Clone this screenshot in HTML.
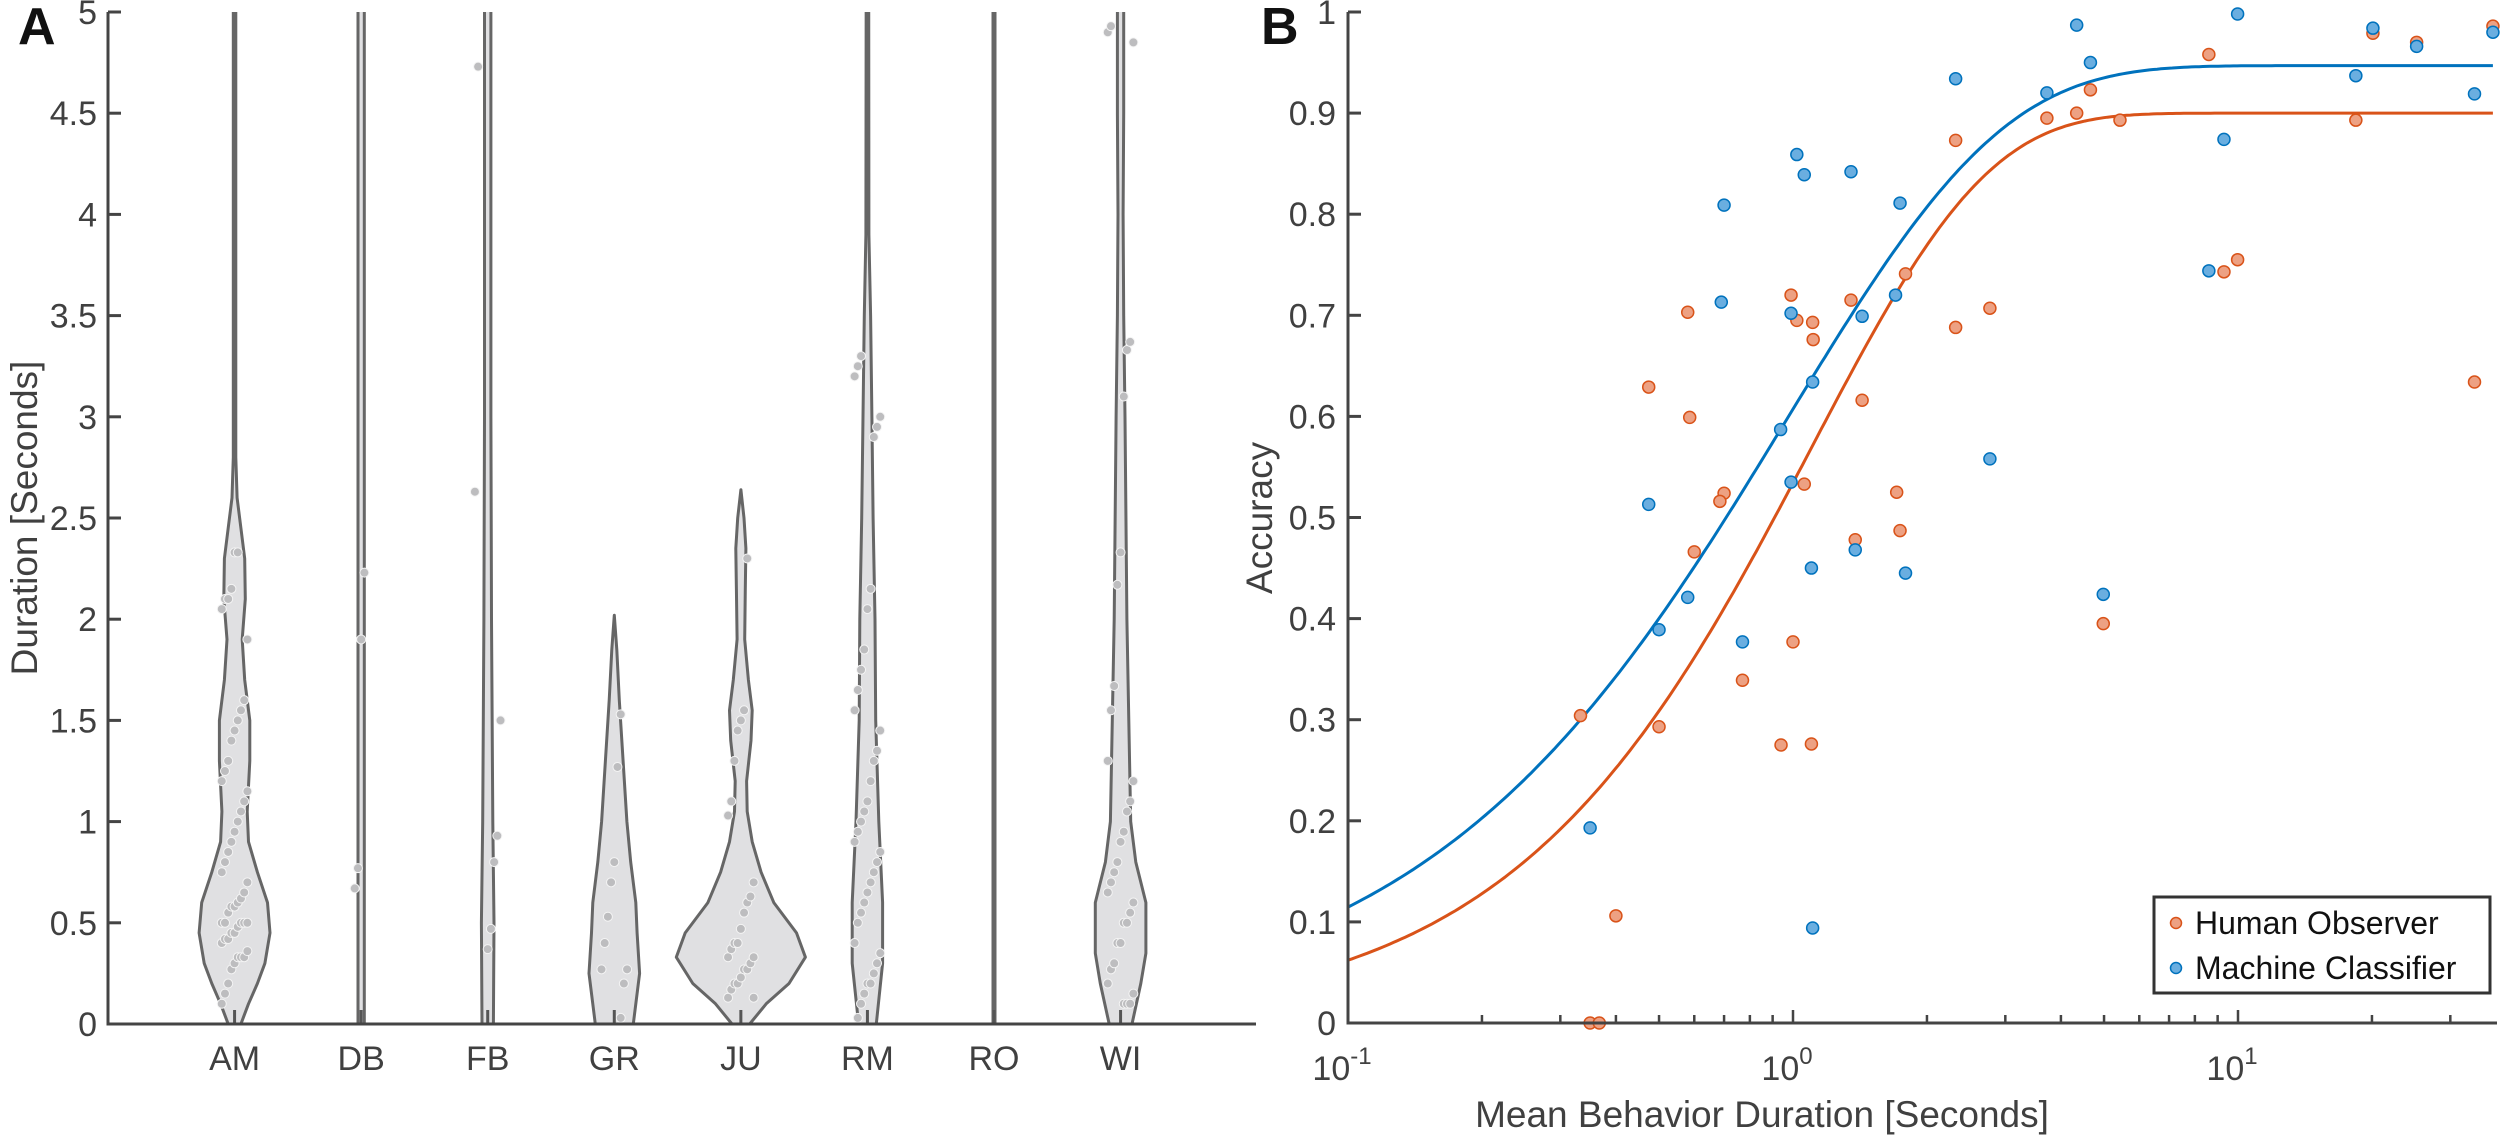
<!DOCTYPE html>
<html><head><meta charset="utf-8"><style>
html,body{margin:0;padding:0;background:#fff}
svg{display:block;font-family:"Liberation Sans",Arial,sans-serif}
</style></head><body>
<svg id="fig" width="2500" height="1136" viewBox="0 0 2500 1136" xmlns="http://www.w3.org/2000/svg">
<g id="panelA"></g>
<g id="panelB"></g>
</svg>
<script>
// ---------- Panel A data ----------
const catsA = ["AM","DB","FB","GR","JU","RM","RO","WI"];
const yTicksA = [0,0.5,1,1.5,2,2.5,3,3.5,4,4.5,5];
const yTickLabelsA = ["0","0.5","1","1.5","2","2.5","3","3.5","4","4.5","5"];
// violin outlines: [duration, half-width in category units]
const violinAM = [[0,0.05],[0.1,0.11],[0.2,0.18],[0.3,0.24],[0.45,0.28],[0.6,0.26],[0.75,0.18],[0.9,0.11],[1.05,0.1],[1.3,0.12],[1.5,0.12],[1.7,0.08],[1.9,0.06],[2.1,0.085],[2.3,0.08],[2.45,0.05],[2.6,0.02],[2.8,0.01],[5.2,0.01]];
const violinDB = [[0,0.025],[5.2,0.025]];
const violinFB = [[0,0.045],[0.5,0.05],[1,0.04],[2,0.03],[3,0.025],[4,0.025],[5.2,0.025]];
const violinGR = [[0,0.15],[0.25,0.2],[0.45,0.18],[0.6,0.17],[0.8,0.13],[1.0,0.1],[1.3,0.07],[1.6,0.04],[1.85,0.02],[2.02,0.0]];
const violinJU = [[0,0.07],[0.1,0.2],[0.2,0.38],[0.33,0.51],[0.45,0.44],[0.6,0.26],[0.75,0.16],[0.9,0.09],[1.05,0.05],[1.2,0.045],[1.4,0.08],[1.55,0.09],[1.7,0.06],[1.9,0.03],[2.15,0.035],[2.35,0.04],[2.5,0.025],[2.64,0.0]];
const violinRM = [[0,0.07],[0.3,0.12],[0.6,0.12],[1.0,0.09],[1.5,0.065],[2.0,0.06],[2.5,0.045],[3.0,0.035],[3.5,0.025],[3.9,0.012],[5.2,0.01]];
const violinRO = [[0,0.008],[5.2,0.008]];
const violinWI = [[0,0.09],[0.2,0.16],[0.35,0.2],[0.6,0.2],[0.8,0.12],[1.0,0.08],[1.5,0.065],[2.0,0.05],[3.0,0.035],[3.5,0.025],[4.0,0.02],[4.5,0.025],[5.2,0.025]];
const violinsA = [violinAM,violinDB,violinFB,violinGR,violinJU,violinRM,violinRO,violinWI];
const dotsAM = [0.1,0.15,0.2,0.27,0.3,0.33,0.33,0.33,0.36,0.4,0.42,0.42,0.45,0.45,0.48,0.5,0.5,0.5,0.5,0.5,0.55,0.58,0.58,0.6,0.62,0.65,0.7,0.75,0.8,0.85,0.9,0.95,1.0,1.05,1.1,1.15,1.2,1.25,1.3,1.4,1.45,1.5,1.55,1.6,1.9,2.05,2.1,2.1,2.15,2.33,2.33];
const dotsDB = [0.67,0.77,1.9,2.23];
const dotsFB = [0.37,0.47,0.8,0.93,1.5,2.63,4.73];
const dotsGR = [0.03,0.2,0.27,0.27,0.4,0.53,0.7,0.8,1.27,1.53];
const dotsJU = [0.13,0.13,0.17,0.2,0.2,0.23,0.27,0.27,0.3,0.33,0.33,0.37,0.4,0.4,0.47,0.55,0.6,0.63,0.7,1.03,1.1,1.3,1.45,1.5,1.55,2.3];
const dotsRM = [0.03,0.1,0.15,0.2,0.2,0.25,0.3,0.35,0.4,0.5,0.55,0.6,0.65,0.7,0.75,0.8,0.85,0.9,0.95,1.0,1.05,1.1,1.2,1.3,1.35,1.45,1.55,1.65,1.75,1.85,2.05,2.15,2.9,2.95,3.0,3.2,3.25,3.3];
const dotsRO = [];
const dotsWI = [0.1,0.1,0.1,0.15,0.2,0.27,0.3,0.4,0.4,0.5,0.5,0.55,0.6,0.65,0.7,0.75,0.8,0.9,0.95,1.05,1.1,1.2,1.3,1.55,1.67,2.17,2.33,3.1,3.33,3.37,4.85,4.9,4.93];
const dotsA = [dotsAM,dotsDB,dotsFB,dotsGR,dotsJU,dotsRM,dotsRO,dotsWI];

// ---------- Panel B data ----------
const humanX = [37.4,20.1,25.2,8.6,4.66,3.72,4.34,5.43,18.4,2.32,9.98,9.3,1.79,0.99,0.58,1.35,1.02,1.107,1.11,2.32,2.77,34,0.474,1.43,0.586,1.06,0.70,0.685,1.71,1.38,1.74,0.60,1.0,0.77,4.98,0.333,0.50,0.94,1.10,0.40,0.35,0.367];
const humanY = [0.986,0.979,0.970,0.958,0.923,0.895,0.900,0.893,0.893,0.873,0.755,0.743,0.741,0.720,0.703,0.715,0.695,0.693,0.676,0.688,0.707,0.634,0.629,0.616,0.599,0.533,0.524,0.516,0.525,0.478,0.487,0.466,0.377,0.339,0.395,0.304,0.293,0.275,0.276,0.106,0,0];
const machineX = [4.34,9.98,20.1,37.4,25.2,4.66,2.32,3.72,18.4,34,9.3,1.02,1.06,1.35,0.70,1.74,8.6,0.69,0.99,1.70,1.43,1.107,0.938,2.77,0.474,0.99,1.38,1.10,1.79,0.58,0.50,0.77,4.98,0.35,1.107];
const machineY = [0.987,0.998,0.984,0.980,0.966,0.950,0.934,0.920,0.937,0.919,0.874,0.859,0.839,0.842,0.809,0.811,0.744,0.713,0.702,0.720,0.699,0.634,0.587,0.558,0.513,0.535,0.468,0.450,0.445,0.421,0.389,0.377,0.424,0.193,0.094];
const yTicksB = [0,0.1,0.2,0.3,0.4,0.5,0.6,0.7,0.8,0.9,1];
const yTickLabelsB = ["0","0.1","0.2","0.3","0.4","0.5","0.6","0.7","0.8","0.9","1"];
const xDecadesB = [-1,0,1];
// fitted curve parameters [asymptote, tau, shape]
const fitHuman = [0.9,1.1,1.1];
const fitMachine = [0.947,0.973,0.9];

const NS="http://www.w3.org/2000/svg";
function mk(parent,tag,attrs,text){const e=document.createElementNS(NS,tag);for(const k in attrs)e.setAttribute(k,attrs[k]);if(text!==undefined)e.textContent=text;parent.appendChild(e);return e;}
const AX="#444";

// ---------- Panel A ----------
const gA=document.getElementById('panelA');
const aL=108,aR=1256,aT=12,aB=1024,aXmin=0,aXmax=9.07;
const xA=c=>aL+(c-aXmin)/(aXmax-aXmin)*(aR-aL);
const yA=v=>aB-(v/5)*(aB-aT);
const clipA=mk(gA,'clipPath',{id:'clipA'});
mk(clipA,'rect',{x:aL,y:aT,width:aR-aL,height:aB-aT});
const plotA=mk(gA,'g',{'clip-path':'url(#clipA)'});
violinsA.forEach((v,i)=>{
  const cx=xA(i+1);
  let d='';
  v.forEach((p,j)=>{d+=(j?'L':'M')+(cx+p[1]*(xA(1)-xA(0))).toFixed(1)+','+yA(p[0]).toFixed(1);});
  for(let j=v.length-1;j>=0;j--){const p=v[j];d+='L'+(cx-p[1]*(xA(1)-xA(0))).toFixed(1)+','+yA(p[0]).toFixed(1);}
  d+='Z';
  const path=mk(plotA,'path',{d:d,fill:'#e0e0e2',stroke:'#666','stroke-width':3,'stroke-linejoin':'round'});
  
  
  const dots=dotsA[i];
  dots.forEach((val,k)=>{
    const jit=((k*37+i*11)%9-4)*3.2;
    const c=mk(plotA,'circle',{cx:cx+jit,cy:yA(val),r:4.5,fill:'#bdbdbf',stroke:'#f4f4f4','stroke-width':1});
    
    
  });
  const w=mk(plotA,'line',{x1:cx,y1:aB,x2:cx,y2:aB-14,stroke:'#555','stroke-width':3});
  
  
});
const axA=mk(gA,'path',{d:`M${aL},${aT}V${aB}H${aR}`,fill:'none',stroke:AX,'stroke-width':3});


yTicksA.forEach((t,i)=>{
  mk(gA,'line',{x1:aL,y1:yA(t),x2:aL+13,y2:yA(t),stroke:AX,'stroke-width':3});
  const tx=mk(gA,'text',{x:aL-11,y:yA(t)+12,'font-size':34,fill:'#404040','text-anchor':'end'},yTickLabelsA[i]);
  
  
});
catsA.forEach((c,i)=>{
  const tx=mk(gA,'text',{x:xA(i+1),y:1070,'font-size':34,fill:'#404040','text-anchor':'middle'},c);
  
  
});
const ytA=mk(gA,'text',{x:0,y:0,'font-size':37,fill:'#404040','text-anchor':'middle',transform:'translate(37,518) rotate(-90)'},'Duration [Seconds]');


const lA=mk(gA,'text',{x:18,y:44,'font-size':52,'font-weight':'bold',fill:'#111'},'A');



// ---------- Panel B ----------
const gB=document.getElementById('panelB');
const bL=1348,bR=2497,bT=12,bB=1023,dec=445;
const xB=v=>bL+(Math.log10(v)+1)*dec;
const yB=v=>bB-v*(bB-bT);
const clipB=mk(gB,'clipPath',{id:'clipB'});
mk(clipB,'rect',{x:bL,y:bT-10,width:bR-bL+10,height:bB-bT+20});
const plotB=mk(gB,'g',{'clip-path':'url(#clipB)'});
function curve(p,color,name){
  let d='';
  for(let k=0;k<=300;k++){const L=-1+k*(Math.log10(37.4)+1)/300;const x=Math.pow(10,L);
    const y=p[0]*(1-Math.exp(-Math.pow(x/p[1],p[2])));d+=(k?'L':'M')+xB(x).toFixed(1)+','+yB(y).toFixed(1);}
  const e=mk(plotB,'path',{d:d,fill:'none',stroke:color,'stroke-width':3});
  
  
}
curve(fitMachine,'#0072bd','machine-fit-curve');
curve(fitHuman,'#d95319','human-fit-curve');
humanX.forEach((x,i)=>{
  const c=mk(plotB,'circle',{cx:xB(x),cy:yB(humanY[i]),r:6,fill:'#eda183',stroke:'#d95319','stroke-width':1.5});
  
  
});
machineX.forEach((x,i)=>{
  const c=mk(plotB,'circle',{cx:xB(x),cy:yB(machineY[i]),r:6,fill:'#6aaee0',stroke:'#0072bd','stroke-width':1.5});
  
  
});
const axB=mk(gB,'path',{d:`M${bL},${bT}V${bB}H${bR}`,fill:'none',stroke:AX,'stroke-width':3});


yTicksB.forEach((t,i)=>{
  mk(gB,'line',{x1:bL,y1:yB(t),x2:bL+13,y2:yB(t),stroke:AX,'stroke-width':3});
  const tx=mk(gB,'text',{x:bL-12,y:yB(t)+12,'font-size':34,fill:'#404040','text-anchor':'end'},yTickLabelsB[i]);
  
  
});
xDecadesB.forEach(dc=>{
  const base=Math.pow(10,dc);
  for(let m=1;m<=9;m++){const v=base*m;const px=xB(v);if(px>bR)break;
    mk(gB,'line',{x1:px,y1:bB,x2:px,y2:bB-(m===1?13:8),stroke:AX,'stroke-width':2.5});}
  const px=xB(base);
  const t=mk(gB,'text',{x:px-6,y:1080,'font-size':34,fill:'#404040','text-anchor':'middle'});
  
  
  mk(t,'tspan',{},'10');
  mk(t,'tspan',{dy:-16,'font-size':24},String(dc));
});
const xtB=mk(gB,'text',{x:1762,y:1127,'font-size':37,fill:'#404040','text-anchor':'middle'},'Mean Behavior Duration [Seconds]');


const ytB=mk(gB,'text',{x:0,y:0,'font-size':37,fill:'#404040','text-anchor':'middle',transform:'translate(1272,518) rotate(-90)'},'Accuracy');


const lB=mk(gB,'text',{x:1261,y:44,'font-size':52,'font-weight':'bold',fill:'#111'},'B');


// legend
const lg=mk(gB,'g',{});


mk(lg,'rect',{x:2154,y:897,width:336,height:96,fill:'#fff',stroke:'#333','stroke-width':3});
const e1=mk(lg,'g',{});


mk(e1,'circle',{cx:2176,cy:923,r:5.5,fill:'#eda183',stroke:'#d95319','stroke-width':1.5});
mk(e1,'text',{x:2195,y:934,'font-size':32,fill:'#111'},'Human Observer');
const e2=mk(lg,'g',{});


mk(e2,'circle',{cx:2176,cy:968,r:5.5,fill:'#6aaee0',stroke:'#0072bd','stroke-width':1.5});
mk(e2,'text',{x:2195,y:979,'font-size':32,fill:'#111'},'Machine Classifier');
</script>
</body></html>
